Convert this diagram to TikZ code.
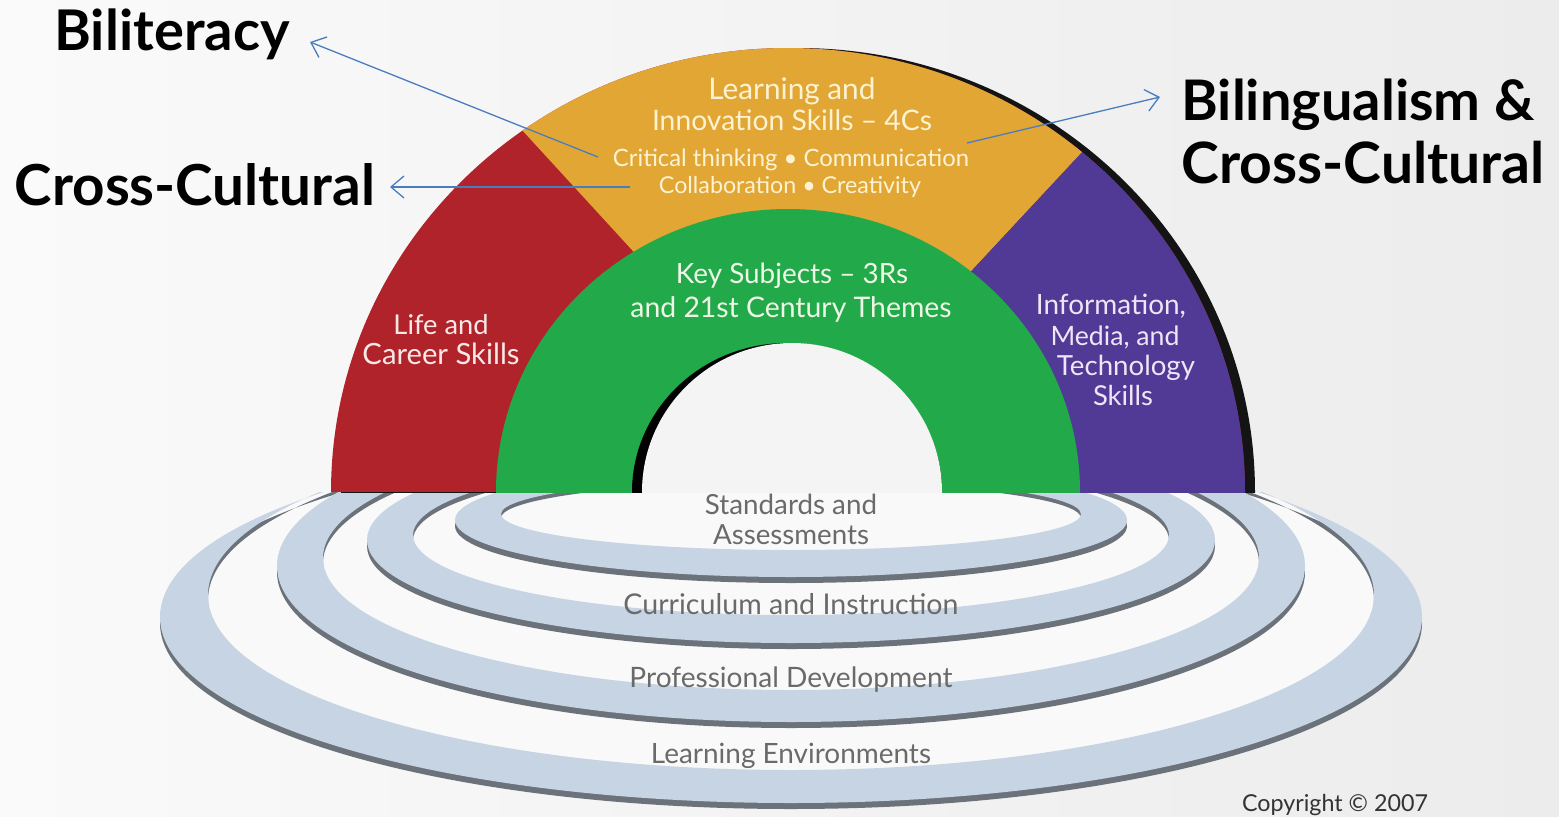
\documentclass[tikz,border=0pt]{standalone}
\usepackage{fontspec}
\setmainfont{Lato}
\usepackage{graphicx}
\usetikzlibrary{arrows.meta}
\definecolor{archred}{HTML}{B1232B}
\definecolor{archyel}{HTML}{E1A633}
\definecolor{archgrn}{HTML}{22A94A}
\definecolor{archpur}{HTML}{513A95}
\definecolor{band}{HTML}{C6D4E4}
\definecolor{bandedge}{HTML}{6C727A}
\definecolor{ringtext}{HTML}{6A6A6A}
\definecolor{arrblue}{HTML}{4A7DC0}
\definecolor{bgl}{HTML}{FAFAFA}
\definecolor{bgr}{HTML}{ECECEC}
\definecolor{holebg}{HTML}{F4F4F4}
\definecolor{ringbg}{HTML}{F9F9F9}
\definecolor{txtyel}{HTML}{FDF3D3}
\definecolor{txtgrn}{HTML}{EEF7E6}
\definecolor{txtred}{HTML}{F9E9E6}
\definecolor{txtpur}{HTML}{ECE6F6}
\newcommand\fitw[2]{\resizebox{#1pt}{!}{#2}}
\begin{document}
\begin{tikzpicture}[x=1pt,y=-1pt,
  lbl/.style={anchor=base, inner sep=0pt, font=\bfseries, text=black},
  archtxt/.style={anchor=base, inner sep=0pt},
  ringlbl/.style={anchor=base, inner sep=0pt, text=ringtext},
  arr/.style={draw=arrblue, line width=1.3pt, -{Straight Barb[length=13pt,width=22pt,line width=1.3pt]}}]
\useasboundingbox (0,0) rectangle (1559,817);
\fill[left color=bgl, right color=bgr] (0,0) rectangle (1559,817);

% rings
\begin{scope}
\clip (0,492) rectangle (1559,817);
\fill[ringbg] (791,617) ellipse (631 and 186);
% ring 4
\fill[bandedge, even odd rule] (791,623) ellipse (631 and 186) (791,600) ellipse (583 and 175);
\fill[band, even odd rule] (791,617) ellipse (631 and 186) (791,595) ellipse (583 and 175);
% ring 3
\fill[bandedge, even odd rule] (791,572) ellipse (514 and 156) (791,563) ellipse (468 and 132);
\fill[band, even odd rule] (791,566) ellipse (514 and 156) (791,558) ellipse (468 and 132);
% ring 2
\fill[bandedge, even odd rule] (791,546) ellipse (424 and 103) (791,540) ellipse (378 and 80);
\fill[band, even odd rule] (791,540) ellipse (424 and 103) (791,535) ellipse (378 and 80);
% ring 1
\fill[bandedge, even odd rule] (791,526) ellipse (336 and 57) (791,518) ellipse (290 and 36);
\fill[band, even odd rule] (791,520) ellipse (336 and 57) (791,514) ellipse (290 and 36);
\end{scope}

% arch
\begin{scope}
\clip (0,0) rectangle (1559,492);
\fill[black!92] (798,492) ellipse (457 and 444);
\begin{scope}
\clip (788,492) ellipse (457 and 444);
\fill[archred] (300,0) rectangle (1300,492);
\fill[archyel] (687,310) -- (302,-110) -- (1290,-71) -- (922,324) -- cycle;
\fill[archpur] (922,324) -- (1290,-71) -- (1400,-71) -- (1400,500) -- (922,500) -- cycle;
\end{scope}
\fill[archgrn] (788,492) ellipse (292 and 283);
\fill[black] (787,492) ellipse (155 and 149);
\fill[holebg] (792,492) ellipse (150 and 149);
\end{scope}

% arch texts
\node[archtxt, text=txtyel] (t1) at (792,99) {\fitw{167}{Learning and}};
\node[archtxt, text=txtyel] (t2) at (792,130) {\fitw{280}{Innovation Skills – 4Cs}};
\node[archtxt, text=txtyel] (t3) at (791,166) {\fitw{356}{Critical thinking • Communication}};
\node[archtxt, text=txtyel] (t4) at (790,193) {\fitw{262}{Collaboration • Creativity}};
\node[archtxt, text=txtgrn] (k1) at (792,283) {\fitw{232}{Key Subjects – 3Rs}};
\node[archtxt, text=txtgrn] (k2) at (791,317) {\fitw{321}{and 21st Century Themes}};
\node[archtxt, text=txtred] (l1) at (441,334) {\fitw{95}{Life and}};
\node[archtxt, text=txtred] (l2) at (441,364) {\fitw{157}{Career Skills}};
\node[archtxt, text=txtpur] (i1) at (1111,314) {\fitw{150}{Information,}};
\node[archtxt, text=txtpur] (i2) at (1115,345) {\fitw{129}{Media, and}};
\node[archtxt, text=txtpur] (i3) at (1126,375) {\fitw{138}{Technology}};
\node[archtxt, text=txtpur] (i4) at (1123,405) {\fitw{60}{Skills}};

% ring texts
\node[ringlbl] (r1a) at (791,514) {\fitw{172}{Standards and}};
\node[ringlbl] (r1b) at (791,544) {\fitw{156}{Assessments}};
\node[ringlbl] (r2) at (791,614) {\fitw{335}{Curriculum and Instruction}};
\node[ringlbl] (r3) at (791,687) {\fitw{323}{Professional Development}};
\node[ringlbl] (r4) at (791,763) {\fitw{280}{Learning Environments}};
\node[anchor=base, inner sep=0pt, text=black!80] (copy) at (1335,811) {\fitw{186}{Copyright © 2007}};

% big labels
\node[lbl] (bili) at (172,50) {\fitw{235}{Biliteracy}};
\node[lbl] (ccl) at (195,205) {\fitw{360}{Cross-Cultural}};
\node[lbl] (biling) at (1358,120) {\fitw{353}{Bilingualism \&}};
\node[lbl] (ccr) at (1363,183) {\fitw{363}{Cross-Cultural}};

% arrows
\coordinate (a1s) at (598,157); \coordinate (a1e) at (310,42);
\coordinate (a2s) at (630,187); \coordinate (a2e) at (390,187);
\coordinate (a3s) at (967,143); \coordinate (a3e) at (1160,97);
\draw[arr] (a1s) -- (a1e);
\draw[arr] (a2s) -- (a2e);
\draw[arr] (a3s) -- (a3e);
\end{tikzpicture}
\end{document}
